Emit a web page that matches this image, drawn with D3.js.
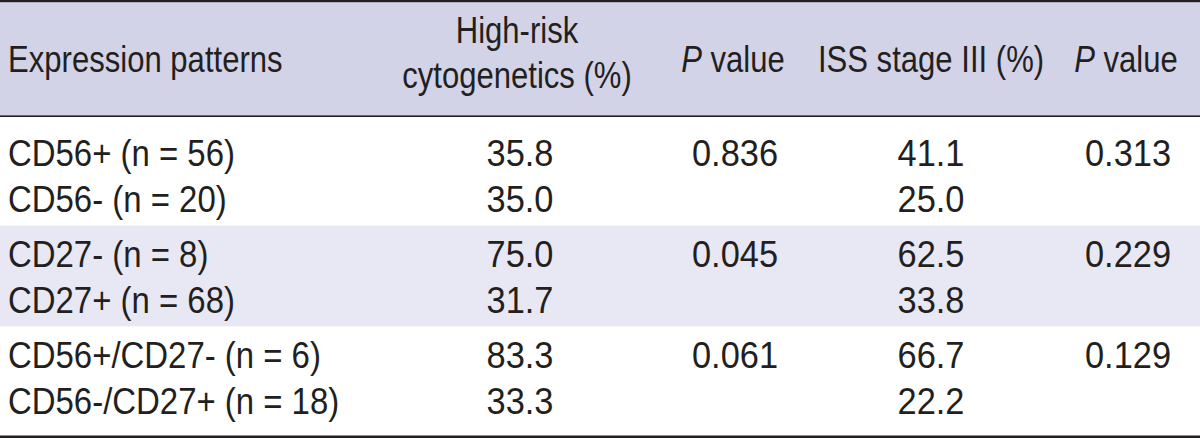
<!DOCTYPE html>
<html>
<head>
<meta charset="utf-8">
<script src="https://cdn.jsdelivr.net/npm/d3@7/dist/d3.min.js"></script>
<style>
  html, body { margin: 0; padding: 0; background: #fff; }
  svg { display: block; }
  text { font-family: "Liberation Sans", Arial, sans-serif; fill: #231f20; }
</style>
</head>
<body>
<svg id="chart" width="1200" height="438"></svg>
<script>
// ---- data ----
const patterns = ["CD56+ (n = 56)", "CD56- (n = 20)", "CD27- (n = 8)", "CD27+ (n = 68)", "CD56+/CD27- (n = 6)", "CD56-/CD27+ (n = 18)"];
const rowGroup = [0, 0, 1, 1, 2, 2];
const highRisk = ["35.8", "35.0", "75.0", "31.7", "83.3", "33.3"];
const issStage = ["41.1", "25.0", "62.5", "33.8", "66.7", "22.2"];
const groups = ["CD56", "CD27", "CD56/CD27"];
const pHighRisk = ["0.836", "0.045", "0.061"];
const pIss = ["0.313", "0.229", "0.129"];
const columns = ["pattern", "highRisk", "pHigh", "iss", "pIss"];

// ---- layout ----
const W = 1200, H = 438;
const svg = d3.select("#chart");
const ink = "#231f20";
const fontSize = 37;
const squeezeHead = 0.84;   // condensed look
const squeezeLabel = 0.89;
const squeezeNum = 0.93;

const x = d3.scaleOrdinal().domain(columns).range([8, 520, 735, 931, 1128]);
const yGroup = d3.scaleLinear().domain([0, 1]).range([166, 267]);
const rowStep = 45.5;
const baseline = i => yGroup(rowGroup[i]) + (i % 2) * rowStep;

const headerBottom = 117;
const groupTop = g => g === 0 ? headerBottom : baseline(g * 2 - 1) + 14;
const groupBottom = g => g === groups.length - 1 ? H - 2.5 : baseline(g * 2 + 1) + 14;

// backgrounds
svg.append("rect").attr("x", 0).attr("y", 0).attr("width", W).attr("height", headerBottom).attr("fill", "#d3d3e8");
groups.forEach((g, gi) => {
  svg.append("rect").attr("x", 0).attr("y", groupTop(gi)).attr("width", W)
    .attr("height", groupBottom(gi) - groupTop(gi))
    .attr("fill", gi % 2 === 1 ? "#e8e8f4" : "#ffffff");
});

// rules
svg.append("rect").attr("x", 0).attr("y", 0).attr("width", W).attr("height", 2.2).attr("fill", ink);
svg.append("rect").attr("x", 0).attr("y", headerBottom - 1.6).attr("width", W).attr("height", 1.6).attr("fill", ink);
svg.append("rect").attr("x", 0).attr("y", H - 2.5).attr("width", W).attr("height", 2.5).attr("fill", ink);

function label(parent, tx, ty, anchor, sx) {
  return parent.append("text")
    .attr("transform", `translate(${tx},${ty}) scale(${sx},1)`)
    .attr("text-anchor", anchor || "start");
}

// header
const hdr = svg.append("g").attr("font-size", fontSize);
label(hdr, x("pattern"), 72, "start", squeezeHead).text("Expression patterns");
label(hdr, x("highRisk") - 3, 43, "middle", squeezeHead).text("High-risk");
label(hdr, x("highRisk") - 3, 88, "middle", squeezeHead).text("cytogenetics (%)");
["pHigh", "pIss"].forEach(c => {
  const t = label(hdr, x(c) - 2, 72, "middle", squeezeHead);
  t.append("tspan").attr("font-style", "italic").text("P");
  t.append("tspan").text(" value");
});
label(hdr, x("iss"), 72, "middle", squeezeHead).text("ISS stage III (%)");

// body
const body = svg.append("g").attr("font-size", fontSize);
patterns.forEach((d, i) => label(body, x("pattern"), baseline(i), "start", squeezeLabel).text(d));
highRisk.forEach((d, i) => label(body, x("highRisk"), baseline(i), "middle", squeezeNum).text(d));
issStage.forEach((d, i) => label(body, x("iss"), baseline(i), "middle", squeezeNum).text(d));
pHighRisk.forEach((d, gi) => label(body, x("pHigh"), baseline(gi * 2), "middle", squeezeNum).text(d));
pIss.forEach((d, gi) => label(body, x("pIss"), baseline(gi * 2), "middle", squeezeNum).text(d));
</script>
</body>
</html>
